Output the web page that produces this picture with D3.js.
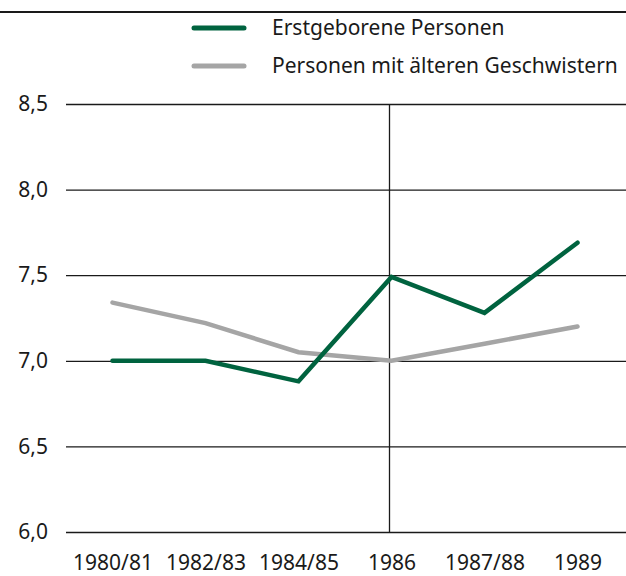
<!DOCTYPE html>
<html>
<head>
<meta charset="utf-8">
<script src="https://cdn.jsdelivr.net/npm/d3@7"></script>
<style>
  body { margin: 0; background: #fff; }
  text { font-family: "Noto Sans", sans-serif; fill: #1a1a1a; }
</style>
</head>
<body>
<div id="chart"></div>
<script>
// data
var years = ["1980/81", "1982/83", "1984/85", "1986", "1987/88", "1989"];
var erstgeboren = [7.0, 7.0, 6.88, 7.49, 7.28, 7.69];
var geschwister = [7.34, 7.22, 7.05, 7.0, 7.1, 7.2];
var yTicks = [6.0, 6.5, 7.0, 7.5, 8.0, 8.5];
var seriesNames = ["Erstgeborene Personen", "Personen mit älteren Geschwistern"];
var seriesColors = ["#00633f", "#a5a5a5"];

var fontSize = "21px";
var svgWidth = 626;
var svgHeight = 576;
var margin = { top: 104, right: 0, bottom: 44, left: 66 };
var width = svgWidth - margin.left - margin.right;
var height = svgHeight - margin.top - margin.bottom;

var svg = d3.select("#chart")
  .append("svg")
  .attr("width", svgWidth)
  .attr("height", svgHeight);

// top rule
svg.append("line")
  .attr("x1", 0).attr("x2", svgWidth)
  .attr("y1", 12).attr("y2", 12)
  .attr("stroke", "#1a1a1a")
  .attr("stroke-width", 2);

// legend
var legend = svg.append("g");
seriesNames.forEach(function(name, i) {
  var ly = 28 + i * 38;
  legend.append("line")
    .attr("x1", 194).attr("x2", 244)
    .attr("y1", ly).attr("y2", ly)
    .attr("stroke", seriesColors[i])
    .attr("stroke-width", 5)
    .attr("stroke-linecap", "round");
  legend.append("text")
    .attr("x", 272).attr("y", ly)
    .attr("dy", "0.35em")
    .style("font-size", fontSize)
    .text(name);
});

var chartGroup = svg.append("g")
  .attr("transform", `translate(${margin.left}, ${margin.top})`);

var xScale = d3.scalePoint()
  .domain(years)
  .range([0, width - 2])
  .padding(0.5);

var yScale = d3.scaleLinear()
  .domain([6.0, 8.5])
  .range([height, 0]);

// y gridlines + labels
var yAxis = d3.axisLeft(yScale)
  .tickValues(yTicks)
  .tickSize(-width)
  .tickPadding(18)
  .tickFormat(d => d3.format(".1f")(d).replace(".", ","));

var yg = chartGroup.append("g").call(yAxis);
yg.select(".domain").remove();
yg.selectAll(".tick line").attr("stroke", "#1a1a1a").attr("stroke-width", 1.3);
yg.selectAll(".tick text")
  .style("font-size", fontSize)
  .style("font-family", "'Noto Sans', sans-serif")
  .attr("fill", "#1a1a1a");

// x labels
var xAxis = d3.axisBottom(xScale).tickSize(0).tickPadding(23);
var xg = chartGroup.append("g")
  .attr("transform", `translate(0, ${height})`)
  .call(xAxis);
xg.select(".domain").remove();
xg.selectAll(".tick text")
  .style("font-size", fontSize)
  .style("font-family", "'Noto Sans', sans-serif")
  .attr("fill", "#1a1a1a");

// vertical marker at 1986
chartGroup.append("line")
  .attr("x1", xScale("1986") - 2).attr("x2", xScale("1986") - 2)
  .attr("y1", 0).attr("y2", height)
  .attr("stroke", "#1a1a1a")
  .attr("stroke-width", 1.3);

// lines
var line = d3.line()
  .x((d, i) => xScale(years[i]))
  .y(d => yScale(d));

[geschwister, erstgeboren].forEach(function(values, k) {
  chartGroup.append("path")
    .datum(values)
    .attr("fill", "none")
    .attr("stroke", k === 0 ? seriesColors[1] : seriesColors[0])
    .attr("stroke-width", 4.5)
    .attr("stroke-linecap", "round")
    .attr("stroke-linejoin", "miter")
    .attr("d", line);
});
</script>
</body>
</html>
